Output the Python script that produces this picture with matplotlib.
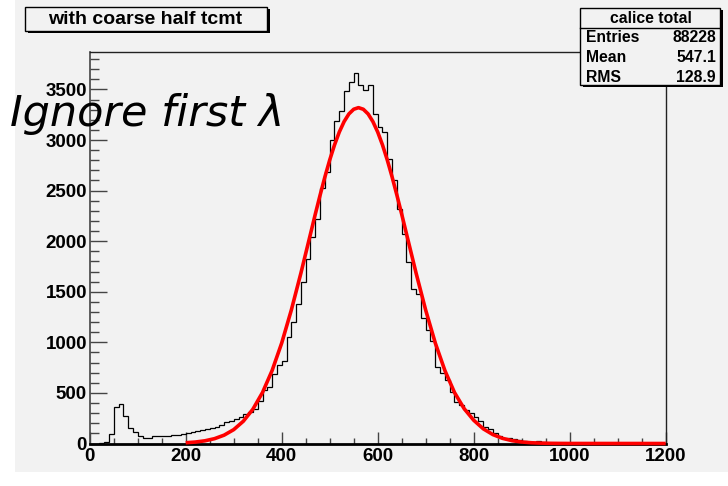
import numpy as np
import matplotlib
matplotlib.use("Agg")
import matplotlib.pyplot as plt
from matplotlib.patches import Rectangle

# ---- histogram: "calice total", 120 bins of width 10 from 0 to 1200 ----
x_min, x_max, bin_width = 0, 1200, 10
counts = [
    0, 0, 4, 14, 90, 360, 395, 270, 155, 115,            # 0-100
    78, 56, 55, 76, 76, 70, 72, 82, 86, 98,              # 100-200
    102, 112, 120, 132, 143, 153, 166, 186, 209, 226,    # 200-300
    242, 265, 291, 308, 342, 423, 528, 554, 686, 779,    # 300-400
    818, 1050, 1200, 1382, 1596, 1820, 2041, 2222, 2525, 2685,   # 400-500
    2997, 3185, 3287, 3488, 3574, 3663, 3548, 3492, 3548, 3261,  # 500-600
    3130, 3075, 2815, 2605, 2321, 2074, 1793, 1530, 1481, 1245,  # 600-700
    1120, 1010, 760, 700, 623, 508, 409, 376, 330, 300,  # 700-800
    265, 222, 160, 140, 107, 74, 58, 50, 40, 31,         # 800-900
    22, 18, 14, 22, 12, 8, 7, 5, 4, 8,                   # 900-1000
    3, 2, 2, 1, 1, 1, 0, 1, 0, 0,                        # 1000-1100
    1, 0, 0, 0, 0, 0, 0, 0, 0, 0,                        # 1100-1200
]

# ---- gaussian fit curve, sampled over the fit range 200-1200 ----
fit_x = [200, 220, 240, 260, 280, 300, 320, 340, 360, 380, 400, 420, 440,
         460, 470, 480, 490, 500, 510, 520, 530, 540, 550, 560, 570, 580,
         590, 600, 610, 620, 630, 640, 650, 660, 680, 700, 720, 740, 760,
         780, 800, 820, 840, 860, 880, 900, 920, 940, 960, 980, 1000, 1200]
fit_y = [7.4, 14.3, 26.6, 47.7, 82.5, 137, 220, 339, 504, 721, 993, 1318, 1684,
         2072, 2267, 2455, 2635, 2802, 2951, 3079, 3182, 3258, 3304, 3320, 3304, 3258,
         3182, 3079, 2951, 2802, 2635, 2455, 2267, 2072, 1684, 1318, 993, 721, 504,
         345, 230, 145, 88, 51, 28, 15, 7.4, 3.7, 1.8, 0.8, 0.3, 0]

title_text = "with coarse half tcmt"
stats_title = "calice total"
stats_rows = [("Entries", "88228"), ("Mean", "547.1"), ("RMS", "128.9")]
note_text = "Ignore first \u03bb"

x_major, x_minor = 200, 50
y_major, y_minor = 500, 100
y_top = 3870

W, H = 728, 486
DPI = 100
BG = "#f2f2f2"
plt.rcParams["font.family"] = ["Liberation Sans", "DejaVu Sans"]

fig = plt.figure(figsize=(W / DPI, H / DPI), dpi=DPI, facecolor="white")


def px(x, y):
    """pixel position (from top-left) -> figure fraction"""
    return x / W, 1 - y / H


# canvas
fig.patches.append(Rectangle(px(15, 472), (W - 15) / W, 472 / H,
                             transform=fig.transFigure, facecolor=BG,
                             edgecolor="none", zorder=-5))

ax_l, ax_r, ax_t, ax_b = 89.7, 665.7, 52, 443.5
ax = fig.add_axes([ax_l / W, 1 - ax_b / H, (ax_r - ax_l) / W, (ax_b - ax_t) / H])
ax.set_zorder(1)
ax.set_facecolor(BG)

edges = np.arange(x_min, x_max + bin_width, bin_width)
ax.stairs(counts, edges, color="black", linewidth=0.9, baseline=0, zorder=3)
ax.plot(fit_x, fit_y, color="#ff0000", linewidth=2.6, solid_capstyle="butt",
        zorder=4, clip_on=False)

ax.set_xlim(x_min, x_max)
ax.set_ylim(0, y_top)
ax.set_xticks(np.arange(x_min, x_max + 1, x_major))
ax.set_xticks(np.arange(x_min, x_max + 1, x_minor), minor=True)
ax.set_yticks(np.arange(0, 3501, y_major))
ax.set_yticks(np.arange(0, y_top, y_minor), minor=True)

tick_col = "#444444"
ax.tick_params(axis="x", which="major", direction="in", length=8.4, width=1.0,
               color=tick_col, pad=3, labelsize=13.5)
ax.tick_params(axis="x", which="minor", direction="in", length=4.2, width=1.0,
               color=tick_col)
ax.tick_params(axis="y", which="major", direction="in", length=12.4, width=1.0,
               color=tick_col, pad=2, labelsize=13.5)
ax.tick_params(axis="y", which="minor", direction="in", length=6.2, width=1.0,
               color=tick_col)
for lab in ax.get_xticklabels() + ax.get_yticklabels():
    lab.set_fontweight("bold")

for side in ("top", "right"):
    ax.spines[side].set_color("#222222")
    ax.spines[side].set_linewidth(1.0)
ax.spines["left"].set_color(tick_col)
ax.spines["left"].set_linewidth(1.2)
ax.spines["bottom"].set_color("black")
ax.spines["bottom"].set_linewidth(2.0)


def box(x0, y0, x1, y1, shadow=3):
    # drop shadow then framed box, in pixel coordinates
    fig.patches.append(Rectangle(px(x0 + shadow, y1 + shadow),
                                 (x1 - x0) / W, (y1 - y0) / H,
                                 transform=fig.transFigure, facecolor="black",
                                 edgecolor="none", zorder=5))
    fig.patches.append(Rectangle(px(x0, y1), (x1 - x0) / W, (y1 - y0) / H,
                                 transform=fig.transFigure, facecolor=BG,
                                 edgecolor="black", linewidth=1.0, zorder=6))


# title box
box(25, 7, 267, 31, shadow=2.5)
fig.text(*px(145, 19.5), title_text, ha="center", va="center",
         fontsize=14, fontweight="bold", zorder=7)

# statistics box
box(580, 8, 720, 85, shadow=2.5)
fig.add_artist(plt.Line2D([580 / W, 720 / W], [1 - 28.5 / H, 1 - 28.5 / H],
                          transform=fig.transFigure, color="black",
                          linewidth=1.0, zorder=7))
fig.text(*px(651, 18.5), stats_title, ha="center", va="center",
         fontsize=11.3, fontweight="bold", zorder=7)
for i, (k, v) in enumerate(stats_rows):
    yy = 38 + 19.8 * i
    fig.text(*px(586, yy), k, ha="left", va="center", fontsize=11.3,
             fontweight="bold", zorder=7)
    fig.text(*px(716, yy), v, ha="right", va="center", fontsize=11.3,
             fontweight="bold", zorder=7)

# handwritten-style note
fig.text(*px(10, 126), note_text, ha="left", va="baseline", fontsize=31,
         style="italic", family=["DejaVu Sans"], zorder=8)

fig.savefig("out.png", dpi=DPI, facecolor=fig.get_facecolor())
